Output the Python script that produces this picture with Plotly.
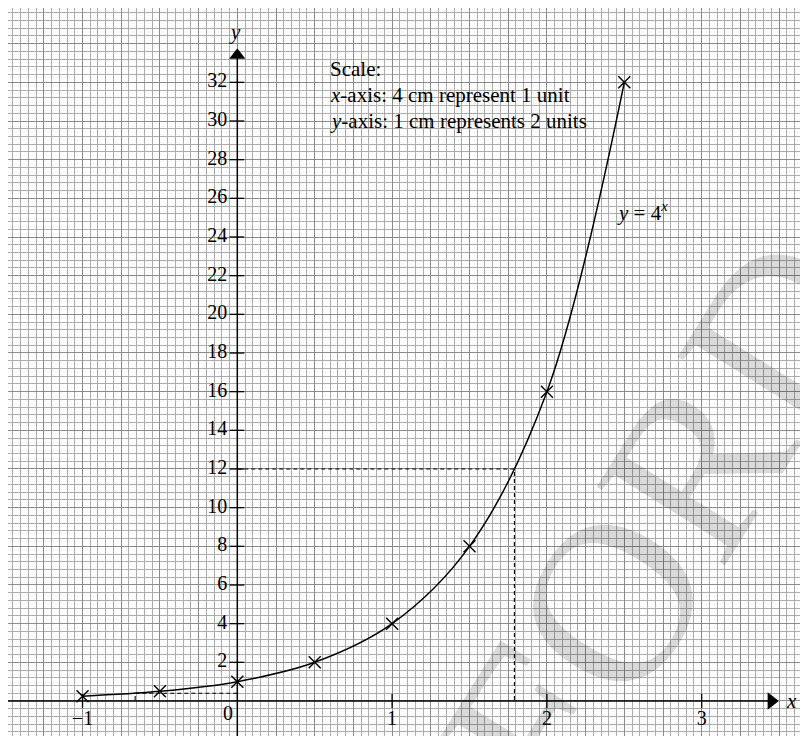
import plotly.graph_objects as go

# data
x_pts = [-1, -0.5, 0, 0.5, 1, 1.5, 2, 2.5]
y_pts = [0.25, 0.5, 1, 2, 4, 8, 16, 32]

# dashed construction lines
dash1_x = [0, 1.79, 1.79]
dash1_y = [12, 12, 0]
dash2_x = [0, -0.66, -0.66]
dash2_y = [0.4, 0.4, 0]

x_tick_vals = [-1, 1, 2, 3]
x_tick_text = ["\u22121", "1", "2", "3"]
y_tick_vals = [2, 4, 6, 8, 10, 12, 14, 16, 18, 20, 22, 24, 26, 28, 30, 32]

X_MIN, X_MAX = -1.4813, 3.7383
Y_MIN, Y_MAX = -2.225, 35.845
X_ARROW_TIP, Y_ARROW_TIP = 3.50, 33.8

FONT = "Liberation Serif, Times New Roman, serif"
MINOR = "#ababab"
MAJOR = "#8a8a8a"

fig = go.Figure()

# axes lines
fig.add_trace(go.Scatter(x=[X_MIN, X_ARROW_TIP - 0.05], y=[0, 0], mode="lines",
                         line=dict(color="black", width=1.5), hoverinfo="skip"))
fig.add_trace(go.Scatter(x=[0, 0], y=[Y_MIN, Y_ARROW_TIP - 0.5], mode="lines",
                         line=dict(color="black", width=1.5), hoverinfo="skip"))
# arrow heads
fig.add_trace(go.Scatter(x=[X_ARROW_TIP - 0.05], y=[0], mode="markers",
                         marker=dict(symbol="triangle-right", size=15, color="black"),
                         hoverinfo="skip"))
fig.add_trace(go.Scatter(x=[0], y=[Y_ARROW_TIP - 0.4], mode="markers",
                         marker=dict(symbol="triangle-up", size=14, color="black"),
                         hoverinfo="skip"))

# tick marks
tx, ty = [], []
for v in x_tick_vals:
    tx += [v, v, None]
    ty += [-0.36, 0.36, None]
for v in y_tick_vals:
    tx += [-0.05, 0.045, None]
    ty += [v, v, None]
fig.add_trace(go.Scatter(x=tx, y=ty, mode="lines", line=dict(color="black", width=1.3),
                         hoverinfo="skip"))

# tick labels
fig.add_trace(go.Scatter(x=[-0.065] * len(y_tick_vals), y=y_tick_vals, mode="text",
                         text=[str(v) for v in y_tick_vals], textposition="middle left",
                         textfont=dict(family=FONT, size=20, color="black"), hoverinfo="skip"))
fig.add_trace(go.Scatter(x=x_tick_vals, y=[-1.0] * len(x_tick_vals), mode="text",
                         text=x_tick_text, textposition="middle center",
                         textfont=dict(family=FONT, size=20, color="black"), hoverinfo="skip"))
fig.add_trace(go.Scatter(x=[-0.06], y=[-0.72], mode="text", text=["0"],
                         textposition="middle center",
                         textfont=dict(family=FONT, size=20, color="black"), hoverinfo="skip"))

# dashed lines
for dx, dy in [(dash1_x, dash1_y), (dash2_x, dash2_y)]:
    fig.add_trace(go.Scatter(x=dx, y=dy, mode="lines",
                             line=dict(color="black", width=1.1, dash="4px,3px"),
                             hoverinfo="skip"))

# curve and points
fig.add_trace(go.Scatter(x=x_pts, y=y_pts, mode="lines",
                         line=dict(color="black", width=1.5, shape="spline", smoothing=1.0),
                         hoverinfo="skip"))
fig.add_trace(go.Scatter(x=x_pts, y=y_pts, mode="markers",
                         marker=dict(symbol="x-thin", size=12,
                                     line=dict(color="black", width=1.4)),
                         hoverinfo="skip"))

ann = []
# watermark
ann.append(dict(xref="paper", yref="paper", x=0.700, y=0.112, text="OXFORD",
                showarrow=False, textangle=-58, xanchor="center", yanchor="middle",
                font=dict(family=FONT, size=230, color="rgba(0,0,0,0.15)")))
# axis names
ann.append(dict(x=3.577, y=0, text="<i>x</i>", showarrow=False, xanchor="center",
                yanchor="middle", font=dict(family=FONT, size=21, color="black")))
ann.append(dict(x=-0.015, y=34.6, text="<i>y</i>", showarrow=False, xanchor="center",
                yanchor="middle", font=dict(family=FONT, size=21, color="black")))
# scale text
scale_lines = ["Scale:",
               "<i>x</i>-axis: 4 cm represent 1 unit",
               "<i>y</i>-axis: 1 cm represents 2 units"]
for i, t in enumerate(scale_lines):
    ann.append(dict(x=0.586, y=32.69 - 1.345 * i, text=t, showarrow=False,
                    xanchor="left", yanchor="middle",
                    font=dict(family=FONT, size=21, color="black")))
ann.append(dict(x=2.44, y=25.3, text="<i>y</i> = 4<sup><i>x</i></sup>", showarrow=False,
                xanchor="left", yanchor="middle",
                font=dict(family=FONT, size=21, color="black")))

fig.update_layout(
    width=808, height=736,
    margin=dict(l=0, r=0, t=0, b=0),
    paper_bgcolor="white", plot_bgcolor="white",
    showlegend=False,
    annotations=ann,
    xaxis=dict(range=[X_MIN, X_MAX], tick0=0, dtick=0.25, showgrid=True,
               gridcolor=MAJOR, gridwidth=1, zeroline=False, showticklabels=False,
               ticks="", showline=False,
               minor=dict(tick0=0, dtick=0.05, showgrid=True, gridcolor=MINOR, gridwidth=1)),
    yaxis=dict(range=[Y_MIN, Y_MAX], tick0=0, dtick=2, showgrid=True,
               gridcolor=MAJOR, gridwidth=1, zeroline=False, showticklabels=False,
               ticks="", showline=False,
               minor=dict(tick0=0, dtick=0.4, showgrid=True, gridcolor=MINOR, gridwidth=1)),
)

fig.write_html("out.html", config={"displayModeBar": False})
